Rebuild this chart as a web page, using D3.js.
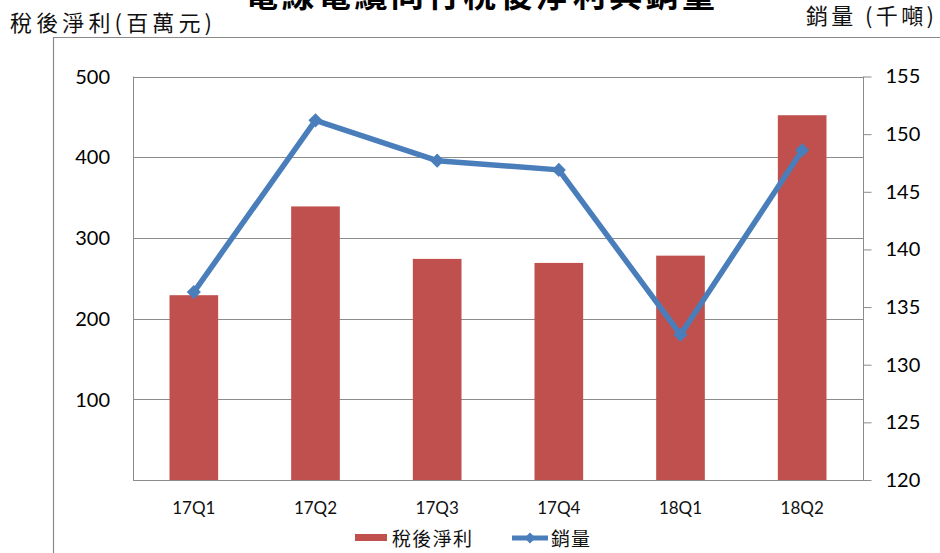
<!DOCTYPE html>
<html>
<head>
<meta charset="utf-8">
<script src="https://cdn.jsdelivr.net/npm/d3@7"></script>
<style>
  html, body { margin: 0; padding: 0; background: #fff; }
  svg { display: block; }
</style>
</head>
<body>
<svg id="chart" width="940" height="553"></svg>
<script>
const categories = ["17Q1", "17Q2", "17Q3", "17Q4", "18Q1", "18Q2"];
const profit = [229, 339, 274, 269, 278, 452];          // 稅後淨利(百萬元)
const volume = [136.3, 151.2, 147.7, 146.9, 132.6, 148.6]; // 銷量(千噸)
const leftTicks = [100, 200, 300, 400, 500];
const rightTicks = [120, 125, 130, 135, 140, 145, 150, 155];

const title = "電線電纜同行稅後淨利與銷量";
const leftTitle = "稅後淨利(百萬元)";
const rightTitle = "銷量 (千噸)";
const seriesNames = ["稅後淨利", "銷量"];

const svg = d3.select("#chart");
const cjk = "'Noto Sans CJK TC', 'Noto Sans CJK SC', sans-serif";
const num = "Lato, 'Open Sans', sans-serif";
const gridColor = "#8c8c8c";
const barColor = "#C0504D";
const lineColor = "#4A7EBB";

const plot = { left: 133, right: 863, top: 76.5, bottom: 480 };

// outer frame
svg.append("path")
  .attr("d", `M53.5,${560} V37.5 H${950}`)
  .attr("fill", "none").attr("stroke", "#8a8a8a").attr("stroke-width", 1.2);

const x = d3.scaleBand().domain(categories).range([plot.left, plot.right]).paddingInner(0.6).paddingOuter(0.3);
const xc = d3.scalePoint().domain(categories).range([plot.left, plot.right]).padding(0.5);
const yL = d3.scaleLinear().domain([0, 500]).range([plot.bottom, plot.top]);
const yR = d3.scaleLinear().domain([120, 155]).range([plot.bottom, plot.top]);

// gridlines
svg.append("g").selectAll("line").data(leftTicks).join("line")
  .attr("x1", plot.left).attr("x2", plot.right)
  .attr("y1", d => Math.round(yL(d)) + 0.5).attr("y2", d => Math.round(yL(d)) + 0.5)
  .attr("stroke", gridColor).attr("stroke-width", 1);

// plot left border
svg.append("line").attr("x1", plot.left + 0.5).attr("x2", plot.left + 0.5)
  .attr("y1", plot.top).attr("y2", plot.bottom).attr("stroke", gridColor);

// left axis labels
svg.append("g").selectAll("text").data(leftTicks).join("text")
  .attr("x", 110).attr("y", d => yL(d)).attr("dy", "0.36em")
  .attr("text-anchor", "end").attr("font-family", num).attr("font-size", 20)
  .attr("fill", "#000").text(d => d);

// right axis
const rAxis = d3.axisRight(yR).tickValues(rightTicks).tickSize(8).tickPadding(14).tickFormat(d3.format("d"));
const rg = svg.append("g").attr("transform", `translate(${plot.right + 0.5},0)`).call(rAxis);
rg.select(".domain").attr("stroke", gridColor).attr("d", `M0,${plot.top}V${plot.bottom}`);
rg.selectAll(".tick line").attr("stroke", gridColor);
rg.selectAll(".tick text").attr("font-family", num).attr("font-size", 20).attr("fill", "#000");

// bars
svg.append("g").selectAll("rect").data(categories).join("rect")
  .attr("x", d => x(d)).attr("width", x.bandwidth())
  .attr("y", (d, i) => yL(profit[i])).attr("height", (d, i) => plot.bottom - yL(profit[i]))
  .attr("fill", barColor);

// bottom axis line
svg.append("line").attr("x1", plot.left).attr("x2", plot.right + 8)
  .attr("y1", plot.bottom + 0.5).attr("y2", plot.bottom + 0.5).attr("stroke", gridColor);

// x labels
svg.append("g").selectAll("text").data(categories).join("text")
  .attr("x", d => xc(d)).attr("y", 508).attr("dy", "0.36em")
  .attr("text-anchor", "middle").attr("font-family", num).attr("font-size", 17)
  .attr("fill", "#111").text(d => d);

// line
const line = d3.line().x((d, i) => xc(categories[i])).y(d => yR(d));
svg.append("path").datum(volume).attr("d", line)
  .attr("fill", "none").attr("stroke", lineColor).attr("stroke-width", 5.5).attr("stroke-linejoin", "round");

const diamond = d3.symbol().type(d3.symbolSquare).size(100);
svg.append("g").selectAll("path").data(volume).join("path")
  .attr("d", diamond)
  .attr("transform", (d, i) => `translate(${xc(categories[i])},${yR(d)}) rotate(45)`)
  .attr("fill", lineColor);

// titles (chart title is clipped at the top edge, as in the source image)
svg.append("text").attr("x", 480).attr("y", 7).attr("text-anchor", "middle")
  .attr("font-family", cjk).attr("font-size", 33).attr("font-weight", "bold")
  .attr("textLength", 470).attr("lengthAdjust", "spacing").attr("fill", "#000").text(title);

svg.append("text").attr("x", 10).attr("y", 31)
  .attr("font-family", cjk).attr("font-size", 22)
  .attr("textLength", 202).attr("lengthAdjust", "spacing").attr("fill", "#111").text(leftTitle);

svg.append("text").attr("x", 806).attr("y", 24)
  .attr("font-family", cjk).attr("font-size", 22)
  .attr("textLength", 128).attr("lengthAdjust", "spacing").attr("fill", "#111").text(rightTitle);

// legend
const lg = svg.append("g");
lg.append("rect").attr("x", 355).attr("y", 534).attr("width", 32).attr("height", 7).attr("fill", barColor);
lg.append("text").attr("x", 392).attr("y", 546).attr("font-family", cjk).attr("font-size", 19)
  .attr("textLength", 80).attr("lengthAdjust", "spacing").attr("fill", "#111").text(seriesNames[0]);
lg.append("line").attr("x1", 512).attr("x2", 548).attr("y1", 538).attr("y2", 538)
  .attr("stroke", lineColor).attr("stroke-width", 5);
lg.append("path").attr("d", d3.symbol().type(d3.symbolSquare).size(60))
  .attr("transform", "translate(530,538) rotate(45)").attr("fill", lineColor);
lg.append("text").attr("x", 551).attr("y", 546).attr("font-family", cjk).attr("font-size", 19)
  .attr("textLength", 39).attr("lengthAdjust", "spacing").attr("fill", "#111").text(seriesNames[1]);
</script>
</body>
</html>
